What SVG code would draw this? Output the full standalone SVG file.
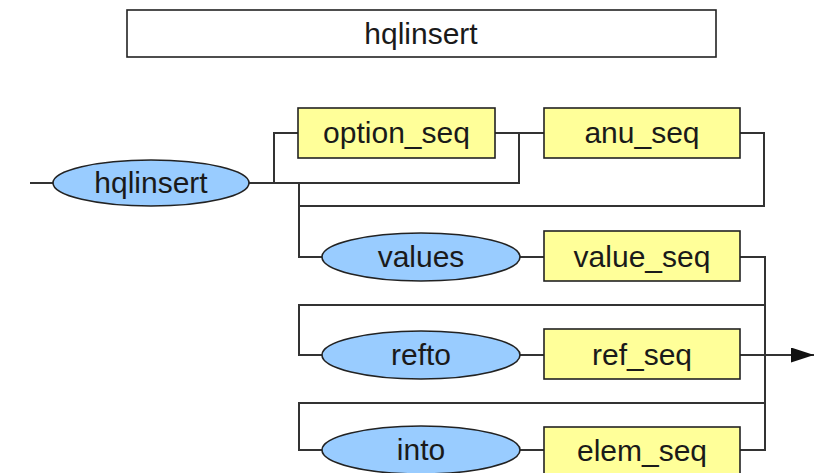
<svg xmlns="http://www.w3.org/2000/svg" width="823" height="473" viewBox="0 0 823 473">
  <style>
    text { font-family: "Liberation Sans", Arial, sans-serif; font-size: 30px; fill: #1a1a1a; text-anchor: middle; }
    .term { fill: #99ccff; stroke: #222; stroke-width: 1.6; }
    .rule { fill: #ffff99; stroke: #222; stroke-width: 1.6; }
    .title { fill: #ffffff; stroke: #222; stroke-width: 1.6; }
    .wire { fill: none; stroke: #333; stroke-width: 2; }
  </style>
  <defs>
    <marker id="arrow" viewBox="0 0 23 15" refX="23" refY="7.5" markerWidth="23" markerHeight="15" markerUnits="userSpaceOnUse" orient="auto">
      <path d="M0,0 L23,7.5 L0,15 Z" fill="#111"/>
    </marker>
  </defs>

  <rect width="823" height="473" fill="#ffffff"/>

  <!-- heading -->
  <g id="title">
    <rect class="title" x="127" y="10" width="589" height="47"/>
    <text x="421" y="44">hqlinsert</text>
  </g>

  <!-- connectors -->
  <g id="connectors">
    <path class="wire" d="M30,183 H53"/>
    <path class="wire" d="M249,183 H274 V133 H298"/>
    <path class="wire" d="M274,183 H519 V133"/>
    <path class="wire" d="M495,133 H544"/>
    <path class="wire" d="M740,133 H764 V206 H299"/>
    <path class="wire" d="M299,183 V257 H322"/>
    <path class="wire" d="M520,257 H544"/>
    <path class="wire" d="M740,257 H765 V450 H740"/>
    <path class="wire" d="M765,305 H299 V355 H322"/>
    <path class="wire" d="M520,355 H544"/>
    <path class="wire" d="M765,403 H299 V450 H322"/>
    <path class="wire" d="M520,450 H544"/>
    <path class="wire" d="M740,355 H814" marker-end="url(#arrow)"/>
  </g>

  <!-- nodes -->
  <g id="n-hqlinsert">
    <ellipse class="term" cx="151" cy="183" rx="98" ry="23"/>
    <text x="151" y="193">hqlinsert</text>
  </g>
  <g id="n-option_seq">
    <rect class="rule" x="298" y="108" width="197" height="50"/>
    <text x="396.5" y="143">option_seq</text>
  </g>
  <g id="n-anu_seq">
    <rect class="rule" x="544" y="108" width="196" height="50"/>
    <text x="642" y="143">anu_seq</text>
  </g>
  <g id="n-values">
    <ellipse class="term" cx="421" cy="257" rx="99" ry="24"/>
    <text x="421" y="267">values</text>
  </g>
  <g id="n-value_seq">
    <rect class="rule" x="544" y="231" width="196" height="50"/>
    <text x="642" y="267">value_seq</text>
  </g>
  <g id="n-refto">
    <ellipse class="term" cx="421" cy="355" rx="99" ry="24"/>
    <text x="421" y="365">refto</text>
  </g>
  <g id="n-ref_seq">
    <rect class="rule" x="544" y="329" width="196" height="50"/>
    <text x="642" y="365">ref_seq</text>
  </g>
  <g id="n-into">
    <ellipse class="term" cx="421" cy="450" rx="99" ry="24"/>
    <text x="421" y="460">into</text>
  </g>
  <g id="n-elem_seq">
    <rect class="rule" x="544" y="427" width="196" height="50"/>
    <text x="642" y="461">elem_seq</text>
  </g>
</svg>
